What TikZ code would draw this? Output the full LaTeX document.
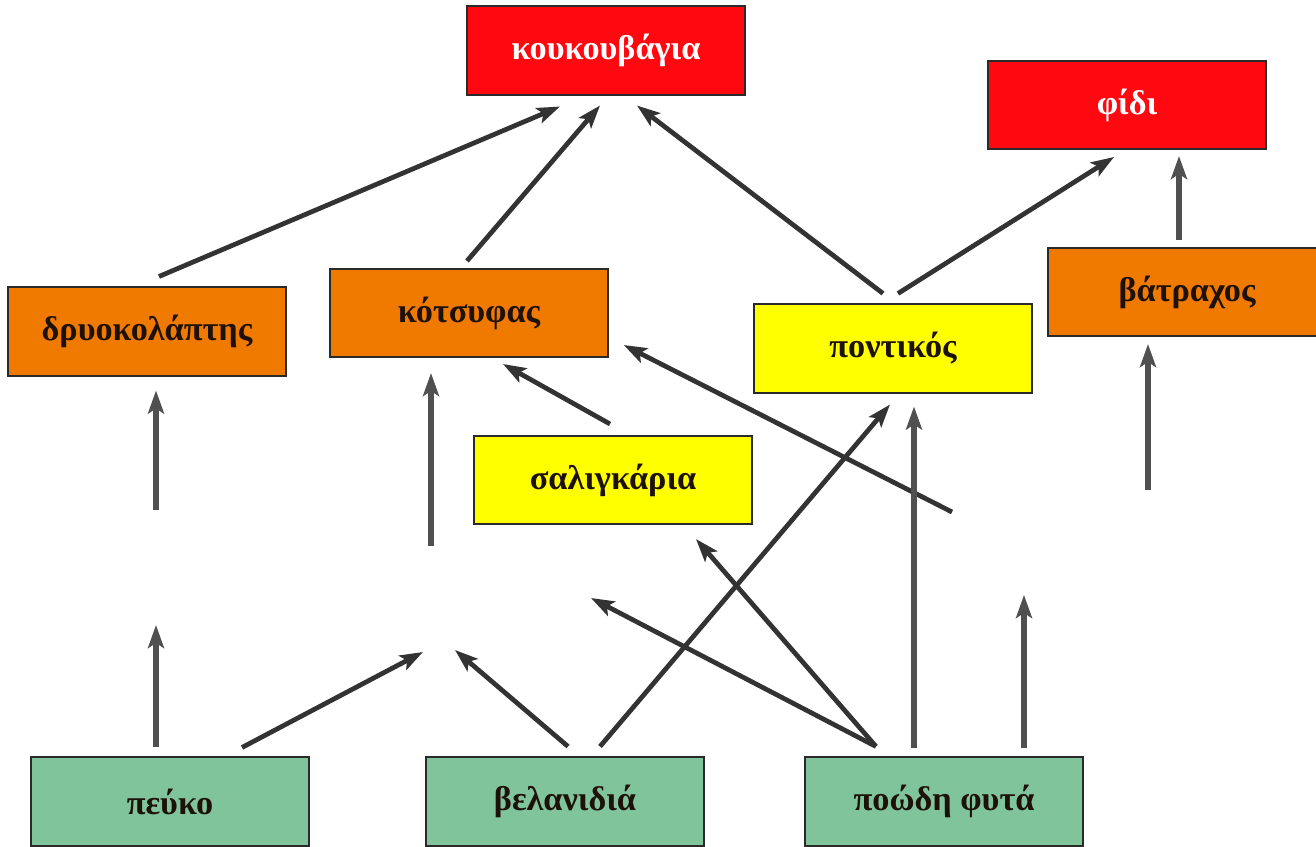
\documentclass[tikz,border=0pt]{standalone}
\usepackage{fontspec}
\setmainfont{Liberation Serif}
\usetikzlibrary{arrows.meta,calc}
\definecolor{predred}{HTML}{FF0810}
\definecolor{consorange}{HTML}{F07A00}
\definecolor{herbyellow}{HTML}{FFFF00}
\definecolor{plantgreen}{HTML}{80C49C}
\definecolor{boxline}{HTML}{2A2A2A}
\definecolor{arrdark}{HTML}{333333}
\definecolor{arrgray}{HTML}{505050}
\definecolor{inkdark}{HTML}{1E1208}
\begin{document}
\begin{tikzpicture}[x=0.02cm, y=-0.02cm,
    species/.style={draw=boxline, line width=0.9pt, minimum width=5.56cm, minimum height=1.77cm, inner sep=0pt, font=\fontsize{19.5}{22}\selectfont\bfseries},
    predbox/.style={species, fill=predred, text=white},
    consbox/.style={species, fill=consorange, text=inkdark},
    herbbox/.style={species, fill=herbyellow, text=inkdark},
    plantbox/.style={species, fill=plantgreen, text=inkdark},
    eats/.style={draw=arrdark, line width=2.7pt, -{Stealth[length=0.46cm, width=0.32cm, inset=0.1cm]}},
    eatsv/.style={eats, draw=arrgray, line width=3.1pt}]
    \useasboundingbox (0,0) rectangle (1316,846);
    \node[predbox] (owl) at (606,50.5) {κουκουβάγια};
    \node[predbox] (snake) at (1127,105) {φίδι};
    \node[consbox] (woodpecker) at (147,331.5) {δρυοκολάπτης};
    \node[consbox] (blackbird) at (469,313) {κότσυφας};
    \node[herbbox] (mouse) at (893,348.5) {ποντικός};
    \node[consbox] (frog) at (1187,292) {βάτραχος};
    \node[herbbox] (snails) at (613,480) {σαλιγκάρια};
    \node[plantbox] (pine) at (170,801.5) {πεύκο};
    \node[plantbox] (oak) at (565,801.5) {βελανιδιά};
    \node[plantbox] (grass) at (944,801.5) {ποώδη φυτά};
    \coordinate (woodpeckerprey) at (156,510);
    \coordinate (blackbirdprey) at (431,546);
    \coordinate (blackbirdprey2) at (952,512);
    \coordinate (frogprey) at (1148,490);
    \coordinate (pineeater) at (156,625);
    \coordinate (pineeater2) at (423,652);
    \coordinate (oakeater) at (455,650);
    \coordinate (grasseater) at (591,598);
    \coordinate (grasseater2) at (1024,595);
    \draw[eats] ($(woodpecker.north)+(12,-10)$) -- ($(owl.south)+(-46,11)$);
    \draw[eats] ($(blackbird.north)+(-2,-7)$) -- ($(owl.south)+(-6,10)$);
    \draw[eats] ($(mouse.north)+(-10,-10)$) -- ($(owl.south)+(31,10)$);
    \draw[eats] ($(mouse.north)+(5,-10)$) -- ($(snake.south)+(-13,7)$);
    \draw[eatsv] ($(frog.north)+(-8,-7)$) -- ($(snake.south)+(52,6)$);
    \draw[eatsv] (woodpeckerprey) -- ($(woodpecker.south)+(9,14)$);
    \draw[eatsv] (blackbirdprey) -- ($(blackbird.south)+(-38,15)$);
    \draw[eats] ($(snails.north)+(-3,-11)$) -- ($(blackbird.south)+(34,6)$);
    \draw[eats] (blackbirdprey2) -- ($(blackbird.south east)+(15,-13)$);
    \draw[eatsv] (frogprey) -- ($(frog.south)+(-39,7)$);
    \draw[eatsv] ($(pine.north)+(-14,-9)$) -- (pineeater);
    \draw[eats] ($(pine.north)+(72,-9)$) -- (pineeater2);
    \draw[eats] ($(oak.north)+(3,-10)$) -- (oakeater);
    \draw[eats] ($(oak.north)+(35,-10)$) -- ($(mouse.south)+(-3,11)$);
    \draw[eats] ($(grass.north)+(-68,-10)$) -- (grasseater);
    \draw[eats] ($(grass.north)+(-68,-10)$) -- ($(snails.south)+(83,14)$);
    \draw[eatsv] ($(grass.north)+(-30,-8)$) -- ($(mouse.south)+(21,13)$);
    \draw[eatsv] ($(grass.north)+(80,-8)$) -- (grasseater2);
\end{tikzpicture}
\end{document}
